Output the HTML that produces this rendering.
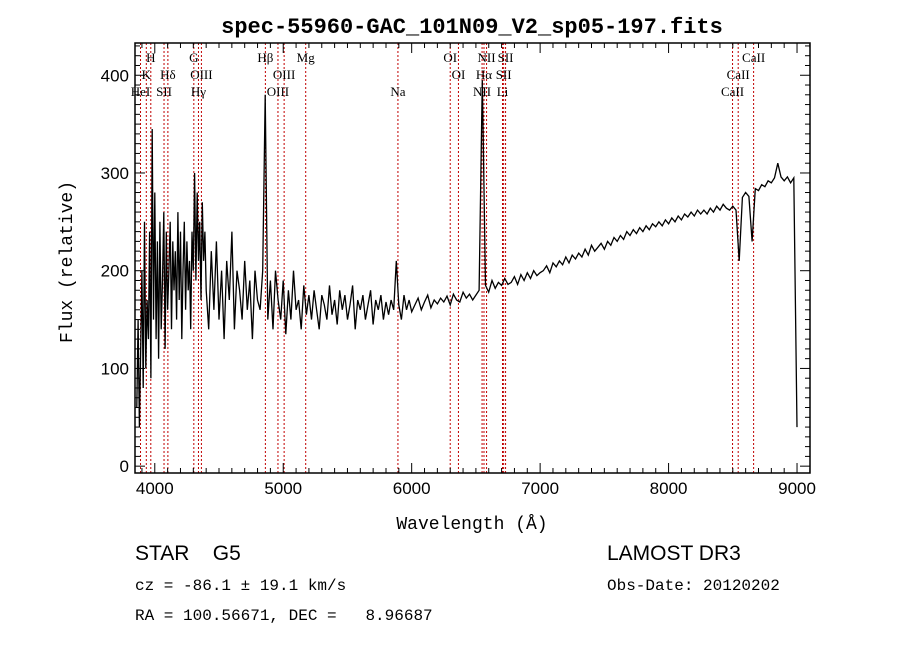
<!DOCTYPE html>
<html><head><meta charset="utf-8">
<style>
html,body{margin:0;padding:0;background:#fff;}
body{width:900px;height:649px;overflow:hidden;}
svg text{fill:#000;}
</style></head>
<body>
<svg id="chart" width="900" height="649" viewBox="0 0 900 649" xmlns="http://www.w3.org/2000/svg">
<rect width="900" height="649" fill="#fff"/>
<text x="472" y="33" text-anchor="middle" font-family="Liberation Mono, monospace" font-size="22" font-weight="bold">spec-55960-GAC_101N09_V2_sp05-197.fits</text>
<g id="lines"></g>
<g id="labels"></g>
<g id="series"></g>
<g id="axes"></g>
<text x="472" y="529" text-anchor="middle" font-family="Liberation Mono, monospace" font-size="18">Wavelength (Å)</text>
<text transform="translate(72,262) rotate(-90)" text-anchor="middle" font-family="Liberation Mono, monospace" font-size="18">Flux (relative)</text>
<text x="135" y="560" font-family="Liberation Sans, sans-serif" font-size="21" xml:space="preserve">STAR    G5</text>
<text x="135" y="590" font-family="Liberation Mono, monospace" font-size="16">cz = -86.1 ± 19.1 km/s</text>
<text x="135" y="620" font-family="Liberation Mono, monospace" font-size="16" xml:space="preserve">RA = 100.56671, DEC =   8.96687</text>
<text x="607" y="560" font-family="Liberation Sans, sans-serif" font-size="21">LAMOST DR3</text>
<text x="607" y="590" font-family="Liberation Mono, monospace" font-size="16">Obs-Date: 20120202</text>
</svg>
<script>
const xTicks=[4000,5000,6000,7000,8000,9000];
const yTicks=[0,100,200,300,400];
const segStart=[3860,4420,6025];
const segStep=[10,20,25];
const fluxBlue=[60,150,40,120,200,80,250,100,170,130,
240,90,345,150,280,130,230,110,250,140,
190,260,120,240,160,200,250,140,230,180,
220,150,260,170,240,130,200,250,160,230,
180,210,140,240,200,300,190,280,210,250,
170,270,210,240,180];
const fluxGreen=[140,220,160,230,150,200,130,210,170,240,
140,200,180,150,210,160,190,130,200,170,
160,200,380,150,190,140,200,170,150,190,
135,180,150,200,160,170,140,185,155,175,
150,180,160,140,175,165,150,185,155,170,
145,180,160,175,150,165,185,140,170,160,
175,150,165,180,145,170,160,175,150,168,
155,170,160,210,165,150,175,160,170,158];
const fluxRed=[165,172,160,168,175,162,170,166,172,168,
174,165,176,170,168,178,172,176,170,175,
180,395,185,178,190,182,188,185,192,186,
188,194,186,196,190,198,192,200,195,198,
200,205,198,208,204,210,206,214,208,216,
212,218,214,222,216,226,220,224,228,222,
230,226,234,230,236,232,240,236,242,238,
244,240,246,242,248,245,250,246,252,248,
254,250,256,252,258,255,260,256,262,258,
262,258,264,260,266,262,268,264,262,266,
262,210,275,280,276,230,284,282,288,286,
292,290,295,310,296,292,296,290,295,40];
const lineWl=[3889,3934,3969,4072,4102,4304,4340,4363,4861,4959,5007,5175,5893,6300,6364,6548,6563,6583,6707,6716,6731,8498,8542,8662];
const labelText=["H","G","Hβ","Mg","OI","NII","SII","CaII","K","Hδ","OIII","OIII","OI","Hα","SII","CaII","HeI","SII","Hγ","OIII","Na","NII","Li","CaII"];
const labelWl=[3969,4304,4861,5175,6300,6583,6731,8662,3934,4102,4363,5007,6364,6563,6716,8542,3889,4072,4340,4959,5893,6548,6707,8498];
const labelRow=[0,0,0,0,0,0,0,0,1,1,1,1,1,1,1,1,2,2,2,2,2,2,2,2];
const L=135,R=810,T=43,B=473;
const xMin=3846,xMax=9101,yMin=-7,yMax=433;
const X=w=>L+(w-xMin)/(xMax-xMin)*(R-L);
const Y=v=>B-(v-yMin)/(yMax-yMin)*(B-T);
const NS="http://www.w3.org/2000/svg";
function mk(tag,attrs,parent){const e=document.createElementNS(NS,tag);for(const k in attrs)e.setAttribute(k,attrs[k]);parent.appendChild(e);return e;}
const gl=document.getElementById('lines');
lineWl.forEach(w=>{const e=mk('line',{x1:X(w),x2:X(w),y1:T,y2:B,stroke:'#c00000','stroke-width':1,'stroke-dasharray':'2,2'},gl);

});
const glab=document.getElementById('labels');
labelText.forEach((t,i)=>{const e=mk('text',{x:X(labelWl[i]),y:62+labelRow[i]*17,'text-anchor':'middle','font-family':'Liberation Serif, serif','font-size':13},glab);e.textContent=t;

});
const gs=document.getElementById('series');
let d='';let first=true;
[fluxBlue,fluxGreen,fluxRed].forEach((arr,s)=>{arr.forEach((v,i)=>{d+=(first?'M':'L')+X(segStart[s]+i*segStep[s]).toFixed(1)+','+Y(v).toFixed(1);first=false;});});
const p=mk('path',{d:d,fill:'none',stroke:'#000','stroke-width':1.3},gs);


const ga=document.getElementById('axes');
const fr=mk('rect',{x:L,y:T,width:R-L,height:B-T,fill:'none',stroke:'#000','stroke-width':1.5},ga);


for(let w=3900;w<=9100;w+=100){const maj=w%1000===0;const h=maj?10:5;
mk('line',{x1:X(w),x2:X(w),y1:B,y2:B-h,stroke:'#000'},ga);mk('line',{x1:X(w),x2:X(w),y1:T,y2:T+h,stroke:'#000'},ga);}
for(let v=0;v<=430;v+=10){const maj=v%100===0;const h=maj?10:5;
mk('line',{x1:L,x2:L+h,y1:Y(v),y2:Y(v),stroke:'#000'},ga);mk('line',{x1:R,x2:R-h,y1:Y(v),y2:Y(v),stroke:'#000'},ga);}
xTicks.forEach(w=>{const e=mk('text',{x:X(w),y:B+21,'text-anchor':'middle','font-family':'Liberation Sans, sans-serif','font-size':17},ga);e.textContent=w;

});
yTicks.forEach(v=>{const e=mk('text',{x:L-6,y:Y(v)+6,'text-anchor':'end','font-family':'Liberation Sans, sans-serif','font-size':17},ga);e.textContent=v;

});
</script>
</body></html>
